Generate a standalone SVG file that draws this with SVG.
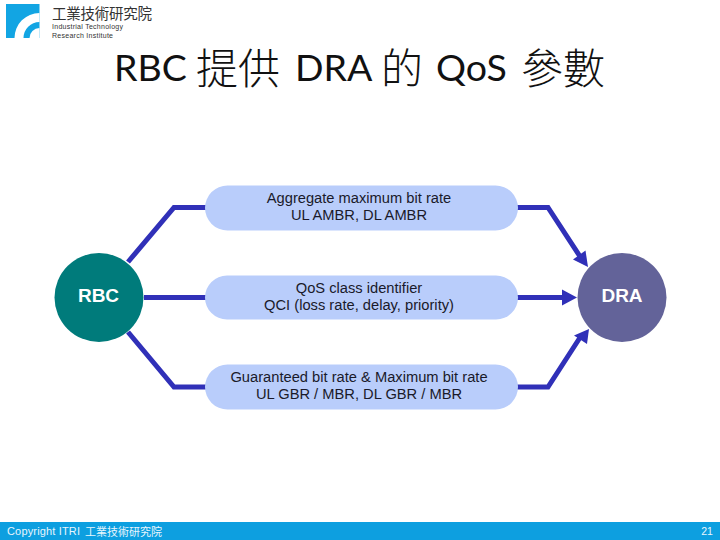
<svg xmlns="http://www.w3.org/2000/svg" width="720" height="540" viewBox="0 0 720 540">
<style>
.t{font-family:"Liberation Sans",Arial,sans-serif;font-size:14.7px;fill:#1a1a2a;text-anchor:middle}
.n{font-family:"Liberation Sans",Arial,sans-serif;font-size:19px;font-weight:bold;fill:#fff;text-anchor:middle}
.pill{fill:#b9cdfb}
.c{fill:none;stroke:#3030b8;stroke-width:5}
.h{fill:#3030b8}
.title{font-family:"Lato","Noto Sans CJK TC",sans-serif;font-size:37.500px;fill:#111}
.tc{font-family:"Noto Sans CJK TC",sans-serif;font-size:42px;font-weight:300}
.cjk{font-family:"Noto Sans CJK TC",sans-serif}
</style>
<rect width="720" height="540" fill="#fff"/>
<g id="logo">
<rect x="6" y="4" width="33.500" height="34" fill="#12a5e3"/>
<path d="M14.500 38A25 25 0 0 1 39.500 13V22A16 16 0 0 0 23.500 38Z" fill="#fff"/>
<path d="M29.500 38A10 10 0 0 1 39.500 28V38Z" fill="#fff"/>
<text x="52" y="19" class="cjk" font-size="14.500" fill="#333" textLength="100">工業技術研究院</text>
<text x="52" y="29" font-family="Liberation Sans,sans-serif" font-size="7" fill="#333" textLength="71">Industrial Technology</text>
<text x="52" y="37.500" font-family="Liberation Sans,sans-serif" font-size="7" fill="#333" textLength="61">Research Institute</text>
</g>
<text id="title" y="81" class="title"><tspan x="114">RBC</tspan><tspan class="tc" x="196" y="84">提供</tspan><tspan x="295" y="81">DRA</tspan><tspan class="tc" x="381" y="84">的</tspan><tspan x="436" y="81">QoS</tspan><tspan class="tc" x="521" y="84">參數</tspan></text>
<g id="connectors">
<path class="c" d="M128 262L174 207.500H206"/>
<path class="c" d="M144 297.500H206"/>
<path class="c" d="M128 332L174 387H206"/>
<path class="c" d="M517 207.500H548L581 258"/>
<path class="c" d="M517 297.500H568"/>
<path class="c" d="M517 387H548L581 336"/>
<path class="h" d="M588 267L573 259.500L585.500 250.500Z"/>
<path class="h" d="M577 297.500L562 289.500V305.500Z"/>
<path class="h" d="M589 329L587 344L574 335.500Z"/>
</g>
<g id="aggregate">
<rect class="pill" x="205" y="185.500" width="313" height="45" rx="22.500"/>
<text class="t" x="359" y="203">Aggregate maximum bit rate</text>
<text class="t" x="359" y="220">UL AMBR, DL AMBR</text>
</g>
<g id="qos">
<rect class="pill" x="205" y="275.500" width="313" height="44" rx="22"/>
<text class="t" x="359" y="293">QoS class identifier</text>
<text class="t" x="359" y="310">QCI (loss rate, delay, priority)</text>
</g>
<g id="guaranteed">
<rect class="pill" x="205" y="364.500" width="313" height="45" rx="22.500"/>
<text class="t" x="359" y="382">Guaranteed bit rate &amp; Maximum bit rate</text>
<text class="t" x="359" y="399">UL GBR / MBR, DL GBR / MBR</text>
</g>
<g id="rbc">
<circle cx="99" cy="297.500" r="44.500" fill="#007b7b"/>
<text class="n" x="98.500" y="302">RBC</text>
</g>
<g id="dra">
<circle cx="622" cy="297.500" r="44.500" fill="#636399"/>
<text class="n" x="622" y="302">DRA</text>
</g>
<g id="footer">
<rect y="522" width="720" height="18" fill="#0d9fe0"/>
<text x="7" y="535" font-family="Liberation Sans,sans-serif" font-size="11" fill="#e8f6fd" textLength="73">Copyright ITRI</text>
<text x="85" y="536" class="cjk" font-size="11" fill="#e8f6fd" textLength="77">工業技術研究院</text>
<text x="707" y="535" font-family="Liberation Sans,sans-serif" font-size="10.500" fill="#e8f6fd" text-anchor="middle">21</text>
</g>
</svg>
